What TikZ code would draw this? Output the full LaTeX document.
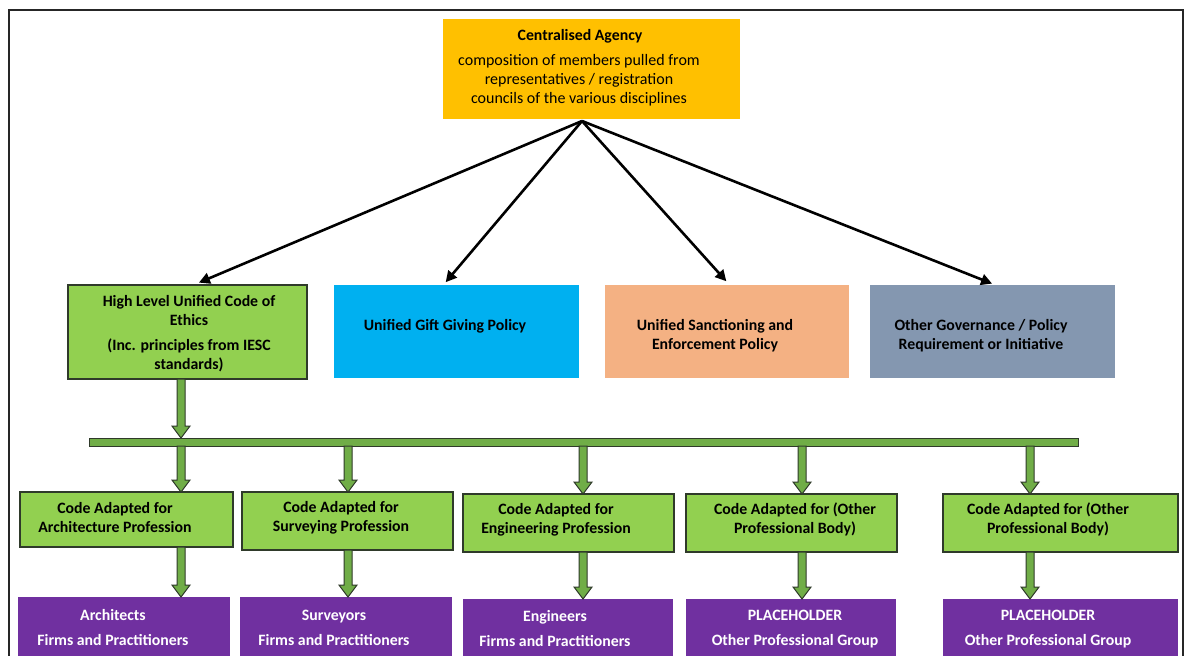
\documentclass[tikz,border=0pt]{standalone}
\usepackage{fontspec}
\setmainfont{Carlito}
\usetikzlibrary{arrows.meta,calc}

\definecolor{agencyfill}{HTML}{FFC000}
\definecolor{codefill}{HTML}{92D050}
\definecolor{giftfill}{HTML}{00B0F0}
\definecolor{sanctionfill}{HTML}{F4B183}
\definecolor{otherfill}{HTML}{8497B0}
\definecolor{groupfill}{HTML}{7030A0}
\definecolor{barfill}{HTML}{70AD47}
\definecolor{edgedark}{HTML}{2F3A2A}

% green block arrow from #1 to #2, both taken at the x of column #3
\newcommand\blkarrow[3]{%
  \draw[blockarrow] let \p1=(#1 -| #3), \p2=(#2 -| #3) in
    (\x1-4pt,\y1) -- (\x1+4pt,\y1) -- (\x1+4pt,\y2+12pt) -- (\x1+9pt,\y2+12pt)
    -- (\x1,\y2) -- (\x1-9pt,\y2+12pt) -- (\x1-4pt,\y2+12pt) -- cycle;}

\begin{document}
\begin{tikzpicture}[x=1pt,y=-1pt,
  box/.style={inner sep=0pt, outer sep=0pt, anchor=north west},
  codebox/.style={box, fill=codefill, draw=edgedark, line width=1.2pt},
  groupbox/.style={box, fill=groupfill},
  txt/.style={align=center, inner sep=0pt, font=\bfseries\fontsize{15.8}{19}\selectfont},
  bodytxt/.style={align=center, inner sep=0pt, font=\fontsize{16}{19}\selectfont},
  grouptxt/.style={align=center, inner sep=0pt, text=white, font=\bfseries\fontsize{15.8}{25}\selectfont},
  conn/.style={line width=2.6pt, black, -{Triangle[length=11pt,width=11pt]}, shorten >=1pt},
  blockarrow/.style={fill=barfill, draw=edgedark, line width=1pt, line join=miter}]

\useasboundingbox (0,0) rectangle (1189,656);
\clip (0,0) rectangle (1189,656);
\fill[white] (0,0) rectangle (1189,656);
\draw[line width=2.2pt, black!85] (9,10) rectangle (1183,700);

% column positions of the block arrows
\coordinate (k1) at (181,0);
\coordinate (k2) at (348,0);
\coordinate (k3) at (583,0);
\coordinate (k4) at (802,0);
\coordinate (k5) at (1030,0);

% top: centralised agency
\node[box, fill=agencyfill, minimum width=297pt, minimum height=100pt] (agency) at (443,19) {};
\node[txt] (agencyT) at (580,36) {Centralised Agency};
\node[bodytxt] (agencyB) at (579,80) {composition of members pulled from\\representatives / registration\\councils of the various disciplines};
\coordinate (hub) at ($(agency.south west)+(139,2)$);

% policy row
\node[codebox, minimum width=239pt, minimum height=94pt] (ethics) at (68,285) {};
\node[txt] (ethicsA) at (189,310) {High Level Unified Code of\\Ethics};
\node[txt] (ethicsB) at (189,355.5) {(Inc. principles from IESC\\standards)};

\node[box, fill=giftfill, minimum width=245pt, minimum height=93pt] (gift) at (334,285) {};
\node[txt] (giftT) at (445,326) {Unified Gift Giving Policy};

\node[box, fill=sanctionfill, minimum width=244pt, minimum height=93pt] (sanction) at (605,285) {};
\node[txt] (sanctionT) at (715,335.5) {Unified Sanctioning and\\Enforcement Policy};

\node[box, fill=otherfill, minimum width=245pt, minimum height=93pt] (other) at (870,285) {};
\node[txt] (otherT) at (981,335.5) {Other Governance / Policy\\Requirement or Initiative};

\draw[conn] (hub) -- ($(ethics.north west)+(130,-2)$);
\draw[conn] (hub) -- ($(gift.north west)+(111,-2)$);
\draw[conn] (hub) -- ($(sanction.north west)+(122,-3)$);
\draw[conn] (hub) -- ($(other.north west)+(123,-1)$);

% distribution bar
\node[box, fill=barfill, draw=edgedark, line width=1pt, minimum width=989pt, minimum height=8pt] (bar) at (89,438) {};
\blkarrow{ethics.south}{bar.north}{k1}

% adapted codes
\node[codebox, minimum width=213pt, minimum height=55pt] (c1) at (20,492) {};
\node[codebox, minimum width=211pt, minimum height=58pt] (c2) at (242,492) {};
\node[codebox, minimum width=211pt, minimum height=58pt] (c3) at (463,494) {};
\node[codebox, minimum width=211pt, minimum height=58pt] (c4) at (686,494) {};
\node[codebox, minimum width=235pt, minimum height=58pt] (c5) at (943,494) {};
\node[txt] (c1T) at (115,517.5) {Code Adapted for\\Architecture Profession};
\node[txt] (c2T) at (341,517.5) {Code Adapted for\\Surveying Profession};
\node[txt] (c3T) at (556,519.5) {Code Adapted for\\Engineering Profession};
\node[txt] (c4T) at (795,519.5) {Code Adapted for (Other\\Professional Body)};
\node[txt] (c5T) at (1048,519.5) {Code Adapted for (Other\\Professional Body)};

\blkarrow{bar.south}{c1.north}{k1}
\blkarrow{bar.south}{c2.north}{k2}
\blkarrow{bar.south}{c3.north}{k3}
\blkarrow{bar.south}{c4.north}{k4}
\blkarrow{bar.south}{c5.north}{k5}

% practitioner groups
\node[groupbox, minimum width=212pt, minimum height=70pt] (p1) at (18,597) {};
\node[groupbox, minimum width=212pt, minimum height=70pt] (p2) at (240,597) {};
\node[groupbox, minimum width=210pt, minimum height=70pt] (p3) at (463,599) {};
\node[groupbox, minimum width=210pt, minimum height=70pt] (p4) at (686,599) {};
\node[groupbox, minimum width=235pt, minimum height=70pt] (p5) at (943,599) {};
\node[grouptxt] (p1T) at (113,627.5) {Architects\\Firms and Practitioners};
\node[grouptxt] (p2T) at (334,627.5) {Surveyors\\Firms and Practitioners};
\node[grouptxt] (p3T) at (555,629) {Engineers\\Firms and Practitioners};
\node[grouptxt] (p4T) at (795,629) {PLACEHOLDER\\Other Professional Group};
\node[grouptxt] (p5T) at (1048,629) {PLACEHOLDER\\Other Professional Group};

\blkarrow{c1.south}{p1.north}{k1}
\blkarrow{c2.south}{p2.north}{k2}
\blkarrow{c3.south}{p3.north}{k3}
\blkarrow{c4.south}{p4.north}{k4}
\blkarrow{c5.south}{p5.north}{k5}
\end{tikzpicture}
\end{document}
